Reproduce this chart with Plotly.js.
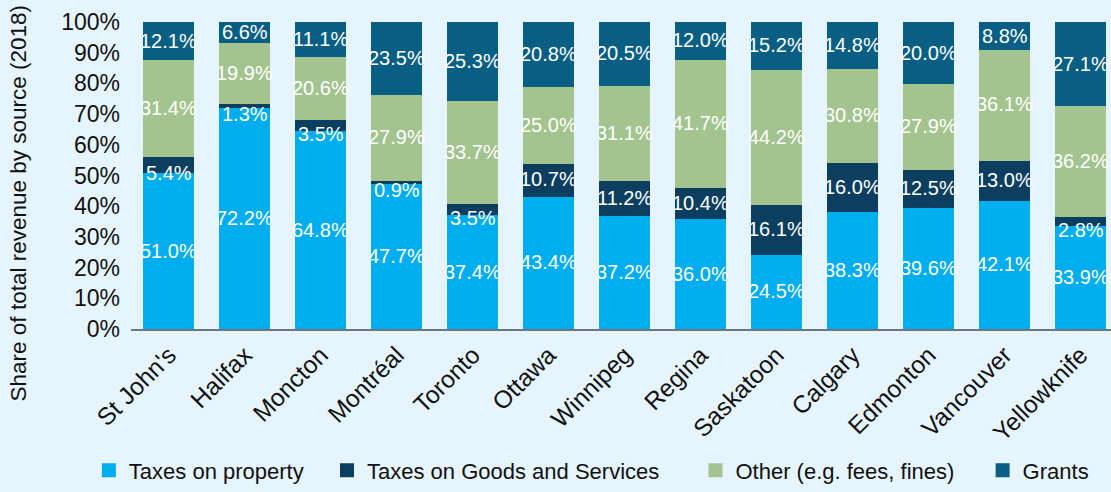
<!DOCTYPE html>
<html>
<head>
<meta charset="utf-8">
<script src="https://cdn.plot.ly/plotly-3.0.1.min.js"></script>
<style>
  html, body { margin: 0; padding: 0; background: #E6F5FD; }
  #chart { width: 1111px; height: 492px; }
</style>
</head>
<body>
<div id="chart"></div>
<script>
const cities = ["St John's", "Halifax", "Moncton", "Montréal", "Toronto", "Ottawa", "Winnipeg", "Regina", "Saskatoon", "Calgary", "Edmonton", "Vancouver", "Yellowknife"];
const taxesProperty = [51.0, 72.2, 64.8, 47.7, 37.4, 43.4, 37.2, 36.0, 24.5, 38.3, 39.6, 42.1, 33.9];
const taxesGoods = [5.4, 1.3, 3.5, 0.9, 3.5, 10.7, 11.2, 10.4, 16.1, 16.0, 12.5, 13.0, 2.8];
const other = [31.4, 19.9, 20.6, 27.9, 33.7, 25.0, 31.1, 41.7, 44.2, 30.8, 27.9, 36.1, 36.2];
const grants = [12.1, 6.6, 11.1, 23.5, 25.3, 20.8, 20.5, 12.0, 15.2, 14.8, 20.0, 8.8, 27.1];
const seriesNames = ["Taxes on property", "Taxes on Goods and Services", "Other (e.g. fees, fines)", "Grants"];
const yTickVals = [0, 10, 20, 30, 40, 50, 60, 70, 80, 90, 100];
const yTickText = ["0%", "10%", "20%", "30%", "40%", "50%", "60%", "70%", "80%", "90%", "100%"];

const seriesValues = [taxesProperty, taxesGoods, other, grants];
const colors = ["#00ADEE", "#0C3F5F", "#A3C48F", "#085E83"];
const legendIds = ["legend", "legend2", "legend3", "legend4"];
const legendX = [-0.043, 0.200, 0.576, 0.869];
const FONT = "Liberation Sans, Arial, Helvetica, sans-serif";

const traces = seriesValues.map((vals, i) => ({
  type: "bar",
  name: seriesNames[i],
  x: cities,
  y: vals,
  legend: legendIds[i],
  marker: { color: colors[i], line: { width: 2, color: colors[i] } },
  hoverinfo: "skip"
}));

const annotations = [];
const base = cities.map(() => 0);
seriesValues.forEach((vals) => {
  vals.forEach((v, j) => {
    annotations.push({
      x: cities[j], y: base[j] + v / 2, xref: "x", yref: "y",
      text: v.toFixed(1) + "%", showarrow: false,
      yshift: v < 6 ? -9 : 0,
      font: { family: FONT, size: 20, color: "#FFFFFF" }
    });
    base[j] += v;
  });
});

annotations.push({
  xref: "paper", yref: "paper", x: -0.115, y: 0.41,
  text: "Share of total revenue by source (2018)",
  textangle: -90, showarrow: false, xanchor: "center", yanchor: "middle",
  font: { family: FONT, size: 22.5, color: "#111111" }
});

const layout = {
  width: 1111, height: 492,
  paper_bgcolor: "#E6F5FD", plot_bgcolor: "#E6F5FD",
  margin: { l: 131, r: 0, t: 22, b: 159 },
  barmode: "stack",
  bargap: 0.355,
  font: { family: FONT, color: "#111111" },
  xaxis: {
    type: "category",
    range: [-0.5, 12.4],
    tickangle: -45,
    tickfont: { family: FONT, size: 24.5, color: "#111111" },
    showline: true, linecolor: "#6E777D", linewidth: 2,
    ticks: "", showgrid: false, zeroline: false
  },
  yaxis: {
    range: [0, 100],
    tickmode: "array",
    tickvals: yTickVals,
    ticktext: yTickText,
    tickfont: { family: FONT, size: 23, color: "#111111" },
    showgrid: false, zeroline: false, showline: false,
    ticks: "", ticklabelstandoff: 10
  },
  showlegend: true,
  annotations: annotations
};

legendIds.forEach((id, i) => {
  layout[id] = {
    orientation: "h", x: legendX[i], xanchor: "left", y: -0.461, yanchor: "middle",
    font: { family: FONT, size: 22, color: "#111111" },
    bgcolor: "rgba(0,0,0,0)", borderwidth: 0
  };
});

Plotly.newPlot("chart", traces, layout, { displayModeBar: false, staticPlot: true });
</script>
</body>
</html>
